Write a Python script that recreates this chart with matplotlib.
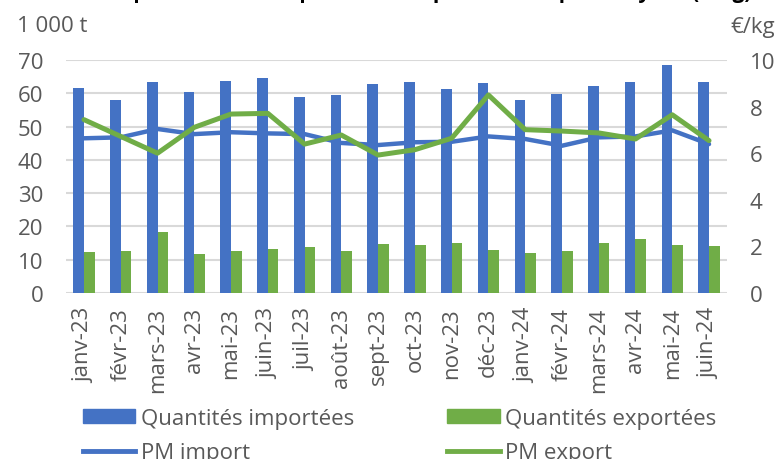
import numpy as np
import matplotlib.pyplot as plt
from matplotlib.patches import Patch
from matplotlib.lines import Line2D

plt.rcParams['font.family'] = ['Open Sans', 'DejaVu Sans']

mois = ["janv-23", "févr-23", "mars-23", "avr-23", "mai-23", "juin-23",
        "juil-23", "août-23", "sept-23", "oct-23", "nov-23", "déc-23",
        "janv-24", "févr-24", "mars-24", "avr-24", "mai-24", "juin-24"]

# quantités (1 000 t)
q_import = [61.6, 57.9, 63.5, 60.3, 63.7, 64.5, 59.0, 59.6, 62.7, 63.4,
            61.4, 63.0, 58.1, 59.7, 62.1, 63.5, 68.5, 63.4]
q_export = [12.2, 12.6, 18.2, 11.6, 12.5, 13.2, 13.9, 12.5, 14.6, 14.4,
            14.9, 13.0, 12.1, 12.7, 14.9, 16.3, 14.4, 14.1]

# prix moyens (€/kg)
pm_import = [6.64, 6.68, 7.04, 6.82, 6.90, 6.85, 6.82, 6.44, 6.35, 6.47,
             6.49, 6.72, 6.61, 6.32, 6.68, 6.72, 6.98, 6.39]
pm_export = [7.44, 6.72, 6.00, 7.11, 7.68, 7.71, 6.39, 6.78, 5.92, 6.15,
             6.64, 8.50, 7.01, 6.95, 6.87, 6.61, 7.65, 6.54]

bleu = "#4472C4"
vert = "#70AD47"
gris = "#595959"
W, H = 779, 460
fs = 16

fig = plt.figure(figsize=(W / 100, H / 100), dpi=100)
ax = fig.add_axes([65.6 / W, (H - 294) / H, (727.4 - 65.6) / W, (294 - 61) / H])
ax2 = ax.twinx()

x = np.arange(len(mois))
bw = 0.29
ax.bar(x - bw / 2, q_import, bw, color=bleu, zorder=2)
ax.bar(x + bw / 2, q_export, bw, color=vert, zorder=2)
ax2.plot(x, pm_import, color=bleu, lw=3.2, solid_capstyle='round', zorder=3)
ax2.plot(x, pm_export, color=vert, lw=3.6, solid_capstyle='round', zorder=4)

ax.set_xlim(-0.5, len(mois) - 0.5)
ax.set_ylim(0, 70)
ax.set_yticks(range(0, 71, 10))
ax2.set_ylim(0, 10)
ax2.set_yticks(range(0, 11, 2))
ax.yaxis.grid(True, color="#d9d9d9", lw=1.5, zorder=0)
ax.set_axisbelow(True)

for a in (ax, ax2):
    for s in a.spines.values():
        s.set_visible(False)
    a.tick_params(length=0, labelsize=fs, labelcolor=gris)
ax.tick_params(axis='y', pad=16)
ax2.tick_params(axis='y', pad=16)
ax.set_xticks(x)
ax.set_xticklabels(mois, rotation=90, fontsize=fs, color=gris)
ax.tick_params(axis='x', pad=10)

fig.text(17 / W, (H - 27) / H, "1 000 t", fontsize=fs, color=gris, va='center')
fig.text(775 / W, (H - 27) / H, "€/kg", fontsize=fs, color=gris, va='center', ha='right')

# titre coupé en haut, comme sur l'original
fig.text(0.55, 462 / H, "Importations et exportations : quantités et prix moyens (€/kg)",
         fontsize=15, fontweight='bold', ha='center', va='baseline')

handles = [Patch(color=bleu), Line2D([], [], color=bleu, lw=3.5),
           Patch(color=vert), Line2D([], [], color=vert, lw=3.5)]
labels = ["Quantités importées", "PM import", "Quantités exportées", "PM export"]
fig.legend(handles, labels, ncol=2, loc='upper left',
           bbox_to_anchor=(83 / W, (H - 409) / H), frameon=False,
           fontsize=fs, labelcolor=gris, handlelength=2.35, handleheight=0.6,
           handletextpad=0.25, columnspacing=4.2, labelspacing=0.6,
           borderpad=0, borderaxespad=0)

fig.savefig("out.png", dpi=100)
